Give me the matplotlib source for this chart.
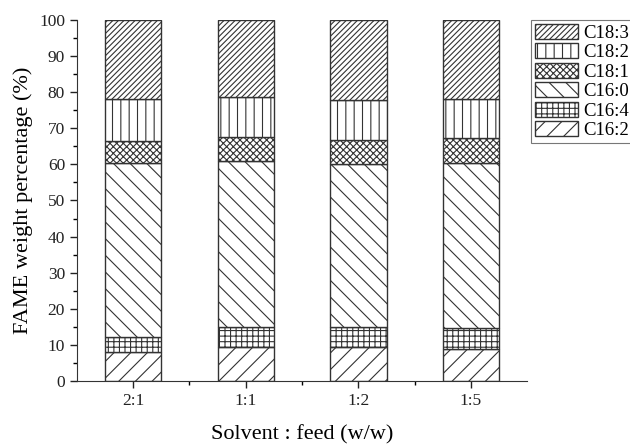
import matplotlib
matplotlib.use("Agg")
import matplotlib.pyplot as plt
from matplotlib.ticker import MultipleLocator, FixedLocator

plt.rcParams["font.family"] = ["Liberation Serif", "DejaVu Serif"]
plt.rcParams["hatch.linewidth"] = 0.8

ratios = ["2:1", "1:1", "1:2", "1:5"]
c16_2 = [8.0, 9.5, 9.3, 8.9]
c16_4 = [4.1, 5.5, 5.6, 5.7]
c16_0 = [48.2, 45.8, 45.1, 45.7]
c18_1 = [6.3, 6.9, 6.8, 6.9]
c18_2 = [11.4, 11.1, 11.0, 10.9]
c18_3 = [22.0, 21.2, 22.2, 21.9]

series = [
    ("C16:2", c16_2, "//"),
    ("C16:4", c16_4, "+++"),
    ("C16:0", c16_0, "\\\\"),
    ("C18:1", c18_1, "xxxxx"),
    ("C18:2", c18_2, "||"),
    ("C18:3", c18_3, "//////"),
]

fig = plt.figure(figsize=(6.3, 4.45), dpi=100)
ax = fig.add_axes([0.122, 0.144, 0.715, 0.811])

x = list(range(1, len(ratios) + 1))
bottom = [0.0] * len(ratios)
handles = []
for name, vals, hatch in series:
    b = ax.bar(x, vals, width=0.5, bottom=bottom, color="white",
               edgecolor="#333333", linewidth=1.0, hatch=hatch, label=name)
    handles.append(b)
    bottom = [bt + v for bt, v in zip(bottom, vals)]

ax.set_xlim(0.5, 4.5)
ax.set_ylim(0, 100)
ax.set_xticks(x)
ax.set_xticklabels(ratios)
ax.xaxis.set_minor_locator(FixedLocator([1.5, 2.5, 3.5]))
ax.yaxis.set_major_locator(MultipleLocator(10))
ax.yaxis.set_minor_locator(MultipleLocator(5))
ax.tick_params(axis="both", which="major", direction="out", length=5,
               width=1.0, labelsize=12.5, colors="#222222")
ax.tick_params(axis="both", which="minor", direction="out", length=3, width=1.0)
for s in ["top", "right"]:
    ax.spines[s].set_visible(False)
for s in ["left", "bottom"]:
    ax.spines[s].set_color("#333333")

ax.set_ylabel("FAME weight percentage (%)", fontsize=16, labelpad=4)
ax.set_xlabel("Solvent : feed (w/w)", fontsize=16, labelpad=12)

leg = ax.legend(handles[::-1], [s[0] for s in series][::-1],
                loc="upper left", bbox_to_anchor=(1.008, 1.0),
                fontsize=13.5, frameon=True, fancybox=False,
                handlelength=2.3, handleheight=0.85, labelspacing=0.08,
                handletextpad=0.3, borderpad=0.2, borderaxespad=0.0)
leg.get_frame().set_edgecolor("#555555")
leg.get_frame().set_linewidth(0.8)

fig.savefig("out.png", dpi=100)
